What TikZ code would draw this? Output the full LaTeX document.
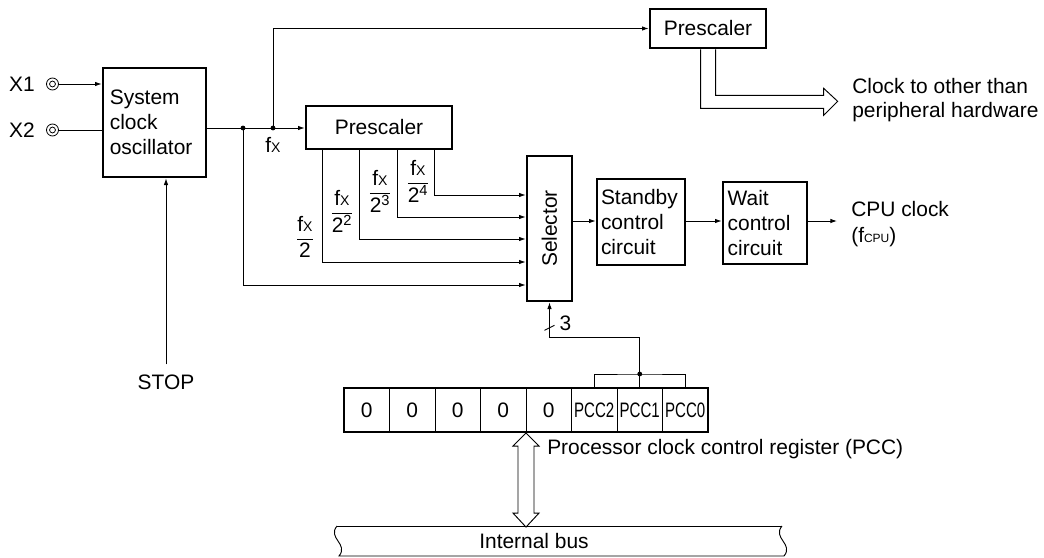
\documentclass[tikz,border=0pt]{standalone}
\usepackage{fontspec}
\usepackage{graphicx}
\setmainfont{Liberation Sans}
\usetikzlibrary{arrows.meta,calc}
\newcommand\fX{f{\fontsize{10.5}{10.5}\selectfont X}}
\newcommand\frc[2]{$\displaystyle\frac{\mbox{#1}}{\mbox{#2}}$}
\newcommand\pccs[1]{\scalebox{0.72}[1]{#1}}
\begin{document}
\begin{tikzpicture}[x=0.75pt,y=-0.75pt,
  every node/.style={font=\fontsize{15.7}{18.6}\selectfont},
  blk/.style={draw,line width=2pt,inner xsep=4pt,inner ysep=2pt,align=left},
  conn/.style={line width=0.7pt},
  arr/.style={conn,-{Latex[length=5pt,width=3.4pt]}},
  dotn/.style={circle,fill,inner sep=0pt,minimum size=3.6pt},
  lbl/.style={inner sep=0pt},
  frac/.style={inner sep=0pt,anchor=base},
  inpt/.style={circle,draw,line width=0.6pt,minimum size=9pt,inner sep=0pt,
    path picture={\draw[line width=0.6pt] (path picture bounding box.center) circle[radius=2.2pt];}},
  rcell/.style={draw,line width=0.7pt,minimum width=34.125pt,minimum height=33pt,inner sep=0pt},
]
\useasboundingbox (0,0) rectangle (1044,557);

% blocks
\node[blk,minimum width=77.25pt,minimum height=81.75pt,text width=67pt] (sys) at (154.5,122.5) {System\\clock\\oscillator};
\node[blk,minimum width=109.5pt,minimum height=32.25pt,align=center] (pre1) at (379,127.5) {Prescaler};
\node[blk,minimum width=87pt,minimum height=29.25pt,align=center] (pre2) at (708,28.5) {Prescaler};
\node[draw,line width=2pt,minimum width=33.75pt,minimum height=108.75pt,inner sep=0pt] (sel) at (549.5,228.5) {};
\node[lbl,rotate=90] (seltxt) at (sel.center) {Selector};
\node[blk,minimum width=66pt,minimum height=64.5pt,text width=60pt,inner xsep=2.5pt] (stby) at (641,222) {Standby\\control\\circuit};
\node[blk,minimum width=63pt,minimum height=61.5pt,text width=56pt,inner xsep=3.5pt] (wait) at (765,223) {Wait\\control\\circuit};

% inputs
\node[lbl] (x1) at (22,84) {X1};
\node[lbl] (x2) at (22,130) {X2};
\node[inpt] (in1) at (52.5,84) {};
\node[inpt] (in2) at (52.5,130) {};
\draw[arr] (in1.east) -- (in1.east -| sys.west);
\draw[conn] (in2.east) -- (in2.east -| sys.west);

% STOP
\node[lbl] (stop) at (166,382) {STOP};
\draw[arr] ($(stop.north)+(0,-10)$) -- (stop.north |- sys.south);

% fx distribution
\coordinate (d1) at (243,128);
\coordinate (d2) at (273,128);
\draw[arr] (sys.east |- d1) -- (pre1.west |- d1);
\node[dotn] (dn1) at (d1) {};
\node[dotn] (dn2) at (d2) {};
\node[lbl] (fxl) at (273,145) {\fX};
\draw[arr] (d2) |- (pre2.west);

% prescaler taps
\coordinate (t1) at ($(pre1.south west)+(18,0)$);
\coordinate (t2) at ($(pre1.south west)+(55,0)$);
\coordinate (t3) at ($(pre1.south west)+(93,0)$);
\coordinate (t4) at ($(pre1.south west)+(130,0)$);
\draw[arr] (t4) |- (sel.west |- 0,195);
\draw[arr] (t3) |- (sel.west |- 0,217);
\draw[arr] (t2) |- (sel.west |- 0,239);
\draw[arr] (t1) |- (sel.west |- 0,262);
\draw[arr] (d1) |- (sel.west |- 0,285);

\node[frac] (f1) at (305,244) {\frc{\fX}{2}};
\node[frac] (f2) at (342,218) {\frc{\fX}{2\textsuperscript{2}}};
\node[frac] (f3) at (380,198) {\frc{\fX}{2\textsuperscript{3}}};
\node[frac] (f4) at (418,188) {\frc{\fX}{2\textsuperscript{4}}};

% selector -> standby -> wait -> CPU
\draw[arr] (sel.east |- 0,221) -- (stby.west |- 0,221);
\draw[arr] (stby.east |- 0,221) -- (wait.west |- 0,221);
\coordinate (cpuend) at (837,221);
\draw[arr] (wait.east |- cpuend) -- (cpuend);
\node[lbl,anchor=west] (cpu1) at (851,209) {CPU clock};
\node[lbl,anchor=west] (cpu2) at (851,237) {(f{\fontsize{9}{9}\selectfont CPU})};

% top prescaler hollow output
\draw[conn] ($(pre2.south west)+(52,0)$) -- ++(0,59) -- ++(123,0) -- ++(0,7) -- ++(14,-14) -- ++(-14,-13) -- ++(0,7) -- ++(-108,0) -- ++(0,-46);
\node[lbl,anchor=west,align=left] (other) at (852,100) {Clock to other than\\peripheral hardware};

% register
\node[rcell] (r1) at (366.75,410) {0};
\node[rcell] (r2) at (412.25,410) {0};
\node[rcell] (r3) at (457.75,410) {0};
\node[rcell] (r4) at (503.25,410) {0};
\node[rcell] (r5) at (548.75,410) {0};
\node[rcell] (r6) at (594.25,410) {\pccs{PCC2}};
\node[rcell] (r7) at (639.75,410) {\pccs{PCC1}};
\node[rcell] (r8) at (685.25,410) {\pccs{PCC0}};
\node[draw,line width=1.6pt,minimum width=273pt,minimum height=33pt,inner sep=0pt] (reg) at (526,410) {};

\coordinate (br) at (639.75,374);
\draw[conn] (r6.north) |- (br) -| (r8.north);
\draw[conn] (r7.north) -- (br);
\node[dotn] (brd) at (br) {};
\draw[arr] (br) -- ++(0,-37) -| (sel.south);
\draw[conn] ($(sel.south)+(-5,28)$) -- ++(10,-5);
\node[lbl] (three) at ($(sel.south)+(16,21)$) {3};

\node[lbl,anchor=west] (pcclbl) at (547,449) {Processor clock control register (PCC)};

% bus arrow
\draw[conn] (reg.south) -- ++(13,13) -- ++(-5,0) -- ++(0,67) -- ++(5,0) -- ++(-13,14) -- ++(-13,-14) -- ++(5,0) -- ++(0,-67) -- ++(-5,0) -- cycle;

% internal bus
\coordinate (bl) at (337,526);
\coordinate (br2) at (782,526);
\draw[conn] (bl) -- (br2);
\draw[conn] (bl) .. controls (327,538) and (349,544) .. (339,556) -- (784,556);
\draw[conn] (br2) .. controls (772,538) and (794,544) .. (784,556);
\node[lbl] (bus) at (534,541) {Internal bus};
\end{tikzpicture}
\end{document}
